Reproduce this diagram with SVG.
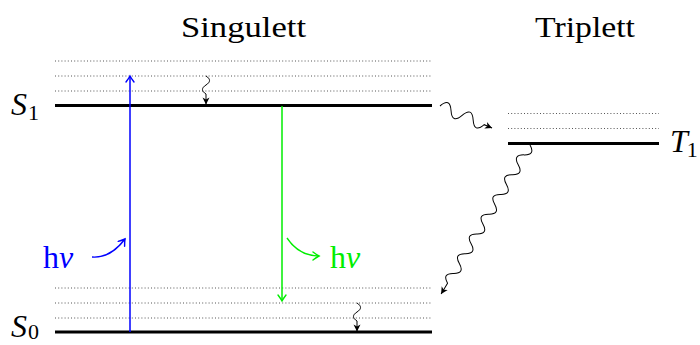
<svg xmlns="http://www.w3.org/2000/svg" width="700" height="345" viewBox="0 0 700 345">
<style>
.lvl{stroke:#000;stroke-width:3.2;fill:none}
.dot{stroke:#555;stroke-width:1;stroke-dasharray:1 2.2;fill:none}
.title{font-family:"Liberation Serif",serif;font-size:30px;fill:#000}
.sym{font-family:"Liberation Serif",serif;font-style:italic;font-size:32px;fill:#000}
.sub{font-family:"Liberation Serif",serif;font-style:normal;font-size:22px}
.hv{font-family:"Liberation Serif",serif;font-size:32px}
.wave{fill:none;stroke:#000;stroke-width:1}
</style>
<defs>
<marker id="ak" viewBox="-8 -4 9 8" refX="0" refY="0" markerWidth="9" markerHeight="8" orient="auto" markerUnits="userSpaceOnUse"><path d="M0,0 L-7,-3.5 L-5,0 L-7,3.5 z" fill="#000"/></marker>
<marker id="ab" viewBox="-8 -5 10 10" refX="0" refY="0" markerWidth="10" markerHeight="10" orient="auto" markerUnits="userSpaceOnUse"><path d="M-6,-4 Q-2,-1 0,0 Q-2,1 -6,4" fill="none" stroke="#0000ff" stroke-width="1.4" stroke-linecap="round"/></marker>
<marker id="ag" viewBox="-8 -5 10 10" refX="0" refY="0" markerWidth="10" markerHeight="10" orient="auto" markerUnits="userSpaceOnUse"><path d="M-6,-4 Q-2,-1 0,0 Q-2,1 -6,4" fill="none" stroke="#00ee00" stroke-width="1.4" stroke-linecap="round"/></marker>
</defs>
<g id="title-singulett"><text class="title" x="243.5" y="37" text-anchor="middle" textLength="125" lengthAdjust="spacingAndGlyphs">Singulett</text></g>
<g id="title-triplett"><text class="title" x="585" y="37" text-anchor="middle" textLength="100" lengthAdjust="spacingAndGlyphs">Triplett</text></g>
<g id="S1">
<line class="dot" x1="55" y1="61" x2="432" y2="61"/>
<line class="dot" x1="55" y1="76" x2="432" y2="76"/>
<line class="dot" x1="55" y1="91" x2="432" y2="91"/>
<line class="lvl" x1="55" y1="105.5" x2="432" y2="105.5"/>
<text class="sym" x="11" y="115">S<tspan class="sub" dx="1" dy="5">1</tspan></text>
</g>
<g id="S0">
<line class="dot" x1="55" y1="288" x2="432" y2="288"/>
<line class="dot" x1="55" y1="303" x2="432" y2="303"/>
<line class="dot" x1="55" y1="318" x2="432" y2="318"/>
<line class="lvl" x1="55" y1="332" x2="432" y2="332"/>
<text class="sym" x="11" y="337">S<tspan class="sub" dx="1" dy="2">0</tspan></text>
</g>
<g id="T1">
<line class="dot" x1="508" y1="113.5" x2="659" y2="113.5"/>
<line class="dot" x1="508" y1="128.5" x2="659" y2="128.5"/>
<line class="lvl" x1="508" y1="143.5" x2="659" y2="143.5"/>
<text class="sym" x="670" y="152">T<tspan class="sub" dx="-1" dy="5">1</tspan></text>
</g>
<g id="connectors">
<line x1="130" y1="332" x2="130" y2="76" stroke="#0000ff" stroke-width="1.5" marker-end="url(#ab)"/>
<path d="M92,257 C105,258 116,251 125,239" fill="none" stroke="#0000ff" stroke-width="1.4" marker-end="url(#ab)"/>
<text class="hv" x="43" y="268" fill="#0000ff">h<tspan font-style="italic">ν</tspan></text>
<line x1="282" y1="106" x2="282" y2="301" stroke="#00ee00" stroke-width="1.5" marker-end="url(#ag)"/>
<path d="M287,238 C295,250 305,256 319,256" fill="none" stroke="#00ee00" stroke-width="1.4" marker-end="url(#ag)"/>
<text class="hv" x="330" y="268" fill="#00ee00">h<tspan font-style="italic">ν</tspan></text>
<path class="wave" transform="translate(206,76) rotate(90)" d="M0,0 C3,-4.7 6,-4.7 9,0 C12,4.7 15,4.7 18,0 L28.5,0" marker-end="url(#ak)"/>
<path class="wave" transform="translate(357,303) rotate(90)" d="M0,0 C3,-4.7 6,-4.7 9,0 C12,4.7 15,4.7 18,0 L28.5,0" marker-end="url(#ak)"/>
<path class="wave" transform="translate(440,106) rotate(22.9)" d="M0,0 C4,-8 8,-8 12,0 C16,8 20,8 24,0 C28,-8 32,-8 36,0 C40,8 44,8 48,0 L56.5,0" marker-end="url(#ak)"/>
<path class="wave" transform="translate(530,145) rotate(120.8)" d="M0,0 C3.83,-6.7 7.67,-6.7 11.5,0 C15.33,6.7 19.17,6.7 23,0 C26.83,-6.7 30.67,-6.7 34.5,0 C38.33,6.7 42.17,6.7 46,0 C49.83,-6.7 53.67,-6.7 57.5,0 C61.33,6.7 65.17,6.7 69,0 C72.83,-6.7 76.67,-6.7 80.5,0 C84.33,6.7 88.17,6.7 92,0 C95.83,-6.7 99.67,-6.7 103.5,0 C107.33,6.7 111.17,6.7 115,0 C118.83,-6.7 122.67,-6.7 126.5,0 C130.33,6.7 134.17,6.7 138,0 C141.83,-6.7 145.67,-6.7 149.5,0 C153.33,6.7 157.17,6.7 161,0 L173.6,0" marker-end="url(#ak)"/>
</g>
</svg>
